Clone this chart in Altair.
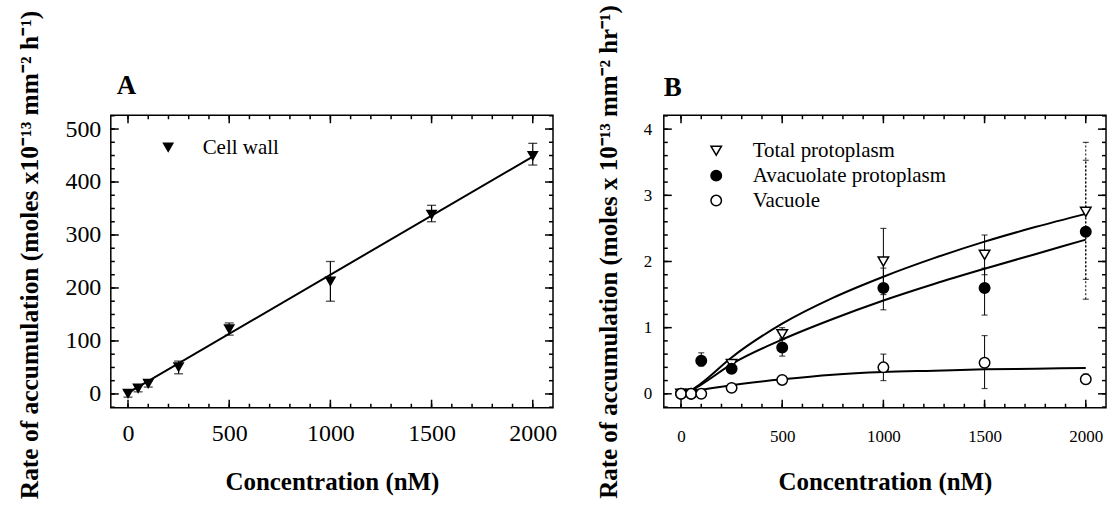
import altair as alt
import pandas as pd

FONT = "Liberation Serif"

# ---------------- Panel A data ----------------
conc_a = [0, 50, 100, 250, 500, 1000, 1500, 2000]
wall = [0, 10, 19, 50, 122, 212, 338, 449]
wall_lo = [-6, 4, 13, 38, 111, 175, 325, 432]
wall_hi = [6, 16, 25, 62, 134, 250, 356, 473]
fit_a_x = [0, 2000]
fit_a_y = [2, 448]

# ---------------- Panel B data ----------------
conc_b = [0, 50, 100, 250, 500, 1000, 1500, 2000]
total = [0.0, 0.0, None, 0.45, 0.9, 2.0, 2.1, 2.75]
total_lo = [None, None, None, None, 0.84, 1.5, 1.8, 1.43]
total_hi = [None, None, None, None, 1.0, 2.5, 2.4, 3.8]
avac = [0.0, 0.0, 0.5, 0.38, 0.7, 1.6, 1.6, 2.45]
avac_lo = [None, None, 0.42, 0.32, 0.57, 1.27, 1.19, 1.73]
avac_hi = [None, None, 0.62, 0.45, 0.82, 1.9, 1.9, 3.53]
vac = [0.0, 0.0, 0.0, 0.09, 0.21, 0.4, 0.47, 0.22]
vac_lo = [None, None, None, None, None, 0.2, 0.08, 0.15]
vac_hi = [None, None, None, None, None, 0.6, 0.88, 0.3]
fit_b_x = [50, 100, 250, 500, 750, 1000, 1250, 1500, 1750, 2000]
fit_total = [0.05, 0.16, 0.55, 1.06, 1.45, 1.77, 2.05, 2.3, 2.52, 2.72]
fit_avac = [0.05, 0.14, 0.45, 0.82, 1.13, 1.41, 1.66, 1.89, 2.11, 2.33]
fit_vac = [0.03, 0.06, 0.13, 0.22, 0.29, 0.33, 0.35, 0.37, 0.38, 0.39]

series_b = ["Total protoplasm", "Avacuolate protoplasm", "Vacuole"]

# axis tick values
x_major = [0, 500, 1000, 1500, 2000]
x_minor = list(range(0, 2001, 100))
ya_major = [0, 100, 200, 300, 400, 500]
ya_minor = list(range(-25, 526, 25))
yb_major = [0, 1, 2, 3, 4]
yb_minor = [round(i * 0.2, 1) for i in range(-1, 22)]

# ---------------- tables ----------------
df_a = pd.DataFrame({"conc": conc_a, "val": wall, "lo": wall_lo, "hi": wall_hi,
                     "sa": ["Cell wall"] * len(conc_a)})
fit_a = pd.DataFrame({"x": fit_a_x, "y": fit_a_y})

rows, err_rows, fit_rows = [], [], []
for name, vals, los, his, fits in [
    (series_b[0], total, total_lo, total_hi, fit_total),
    (series_b[1], avac, avac_lo, avac_hi, fit_avac),
    (series_b[2], vac, vac_lo, vac_hi, fit_vac),
]:
    for c, v, lo, hi in zip(conc_b, vals, los, his):
        if v is not None:
            rows.append({"conc": c, "val": v, "sb": name})
        if lo is not None:
            err_rows.append({"conc": c, "lo": lo, "hi": hi, "sb": name,
                             "dashed": c == 2000})
    for fx, fy in zip(fit_b_x, fits):
        fit_rows.append({"x": fx, "y": fy, "sb": name})
df_b = pd.DataFrame(rows)
err_b = pd.DataFrame(err_rows)
fit_b = pd.DataFrame(fit_rows)

W, H = 443, 293
MAJ, MIN = 8, 4


def label_axis(orient, values, title, lfs, lpad, tpad, tfs=25, title_y=None):
    kw = {}
    if title_y is not None:
        kw["titleY"] = title_y
    return alt.Axis(orient=orient, values=values, ticks=False, domain=False, grid=False,
                    format="d", labelFont=FONT, labelFontSize=lfs,
                    labelColor="black", labelPadding=lpad, title=title,
                    titleFont=FONT, titleFontSize=tfs, titleFontWeight="bold",
                    titleColor="black", titlePadding=tpad, **kw)


def inner_ticks(xs, ys, xmaj, xmin, ymaj, ymin):
    """Inward-pointing frame ticks on all four sides, placed through the scales."""
    layers = []
    for vals, ln in [(xmaj, MAJ), (xmin, MIN)]:
        d = pd.DataFrame({"tv": vals})
        for yy in [H - ln / 2, ln / 2]:
            layers.append(alt.Chart(d).mark_tick(color="black", thickness=1.5, size=ln,
                                                 orient="vertical", opacity=1).encode(
                x=alt.X("tv:Q", scale=xs, axis=None), y=alt.value(yy)))
    for vals, ln in [(ymaj, MAJ), (ymin, MIN)]:
        d = pd.DataFrame({"tv": vals})
        for xx in [ln / 2, W - ln / 2]:
            layers.append(alt.Chart(d).mark_tick(color="black", thickness=1.5, size=ln,
                                                 orient="horizontal", opacity=1).encode(
                y=alt.Y("tv:Q", scale=ys, axis=None), x=alt.value(xx)))
    return layers


def panel_label(letter, dx, dy):
    return alt.Chart(pd.DataFrame({"t": [letter]})).mark_text(
        font=FONT, fontSize=27, fontWeight="bold", color="black",
        align="left", baseline="alphabetic").encode(
        text="t:N", x=alt.value(dx), y=alt.value(dy))


# ---------------- Panel A ----------------
xs_a = alt.Scale(domain=[-85, 2100], nice=False, zero=False)
ys_a = alt.Scale(domain=[-26, 526], nice=False, zero=False)

line_a = alt.Chart(fit_a).mark_line(color="black", strokeWidth=2).encode(
    x=alt.X("x:Q", scale=xs_a, axis=label_axis("bottom", x_major, "Concentration (nM)", 24, 14, 24)),
    y=alt.Y("y:Q", scale=ys_a, axis=label_axis("left", ya_major,
            "Rate of accumulation (moles x10⁻¹³ mm⁻² h⁻¹)", 24, 10, 22, 25.5, H / 2 - 7)),
)
rule_a = alt.Chart(df_a).mark_rule(color="black", strokeWidth=1.2).encode(
    x=alt.X("conc:Q", scale=xs_a, axis=None),
    y=alt.Y("lo:Q", scale=ys_a, axis=None),
    y2="hi:Q",
)
caplo_a = alt.Chart(df_a).mark_tick(orient="horizontal", color="black", size=9, thickness=1.3).encode(
    x=alt.X("conc:Q", scale=xs_a, axis=None),
    y=alt.Y("lo:Q", scale=ys_a, axis=None),
)
caphi_a = alt.Chart(df_a).mark_tick(orient="horizontal", color="black", size=9, thickness=1.3).encode(
    x=alt.X("conc:Q", scale=xs_a, axis=None),
    y=alt.Y("hi:Q", scale=ys_a, axis=None),
)
pts_a = alt.Chart(df_a).mark_point(filled=True, color="black", size=140, opacity=1).encode(
    x=alt.X("conc:Q", scale=xs_a, axis=None),
    y=alt.Y("val:Q", scale=ys_a, axis=None),
    shape=alt.Shape("sa:N", scale=alt.Scale(domain=["Cell wall"], range=["triangle-down"]),
                    legend=alt.Legend(orient="none", legendX=47, legendY=22, title=None,
                                      labelFont=FONT, labelFontSize=21, labelColor="black",
                                      symbolSize=140, symbolFillColor="black",
                                      symbolStrokeColor="black", labelOffset=24,
                                      labelLimit=400)),
)
panel_a = alt.layer(
    line_a, rule_a, caplo_a, caphi_a, pts_a,
    *inner_ticks(xs_a, ys_a, x_major, x_minor, ya_major, ya_minor),
    panel_label("A", 6, -21),
).resolve_axis(x="independent", y="independent").properties(width=W, height=H)

# ---------------- Panel B ----------------
xs_b = alt.Scale(domain=[-85, 2100], nice=False, zero=False)
ys_b = alt.Scale(domain=[-0.21, 4.21], nice=False, zero=False)

line_b = alt.Chart(fit_b).mark_line(color="black", strokeWidth=2, interpolate="monotone").encode(
    x=alt.X("x:Q", scale=xs_b, axis=label_axis("bottom", x_major, "Concentration (nM)", 17, 21, 25)),
    y=alt.Y("y:Q", scale=ys_b, axis=label_axis("left", yb_major,
            "Rate of accumulation (moles x 10⁻¹³ mm⁻² hr⁻¹)", 17, 12, 22, 25, H / 2 - 10)),
    detail="sb:N",
)
rule_b = alt.Chart(err_b).transform_filter("!datum.dashed").mark_rule(color="black", strokeWidth=1).encode(
    x=alt.X("conc:Q", scale=xs_b, axis=None),
    y=alt.Y("lo:Q", scale=ys_b, axis=None),
    y2="hi:Q",
)
rule_bd = alt.Chart(err_b).transform_filter("datum.dashed").mark_rule(
    color="black", strokeWidth=1, strokeDash=[2, 2]).encode(
    x=alt.X("conc:Q", scale=xs_b, axis=None),
    y=alt.Y("lo:Q", scale=ys_b, axis=None),
    y2="hi:Q",
)
caplo_b = alt.Chart(err_b).mark_tick(orient="horizontal", color="black", size=6, thickness=1.2).encode(
    x=alt.X("conc:Q", scale=xs_b, axis=None),
    y=alt.Y("lo:Q", scale=ys_b, axis=None),
)
caphi_b = alt.Chart(err_b).mark_tick(orient="horizontal", color="black", size=6, thickness=1.2).encode(
    x=alt.X("conc:Q", scale=xs_b, axis=None),
    y=alt.Y("hi:Q", scale=ys_b, axis=None),
)
leg_b = alt.Legend(orient="none", legendX=42, legendY=25, title=None,
                   labelFont=FONT, labelFontSize=21, labelColor="black",
                   symbolSize=110, symbolStrokeWidth=1.5,
                   labelOffset=26, rowPadding=3, labelLimit=400)
pts_b = alt.Chart(df_b).mark_point(filled=True, strokeWidth=1.5, size=110, opacity=1).encode(
    x=alt.X("conc:Q", scale=xs_b, axis=None),
    y=alt.Y("val:Q", scale=ys_b, axis=None),
    shape=alt.Shape("sb:N", scale=alt.Scale(domain=series_b, range=["triangle-down", "circle", "circle"]),
                    legend=leg_b),
    fill=alt.Fill("sb:N", scale=alt.Scale(domain=series_b, range=["white", "black", "white"]),
                  legend=leg_b),
    stroke=alt.Stroke("sb:N", scale=alt.Scale(domain=series_b, range=["black", "black", "black"]),
                      legend=leg_b),
)
panel_b = alt.layer(
    line_b, rule_b, rule_bd, caplo_b, caphi_b, pts_b,
    *inner_ticks(xs_b, ys_b, x_major, x_minor, yb_major, yb_minor),
    panel_label("B", 0, -19),
).resolve_axis(x="independent", y="independent").properties(width=W, height=H)

chart = alt.hconcat(panel_a, panel_b, spacing=37).resolve_scale(
    shape="independent", fill="independent", stroke="independent"
).configure_view(stroke="black", strokeWidth=1.5).properties(
    background="white", padding={"left": 17, "top": 3, "right": 5, "bottom": 5}
)

chart.save("out.html", embed_options={"renderer": "svg", "actions": False})
